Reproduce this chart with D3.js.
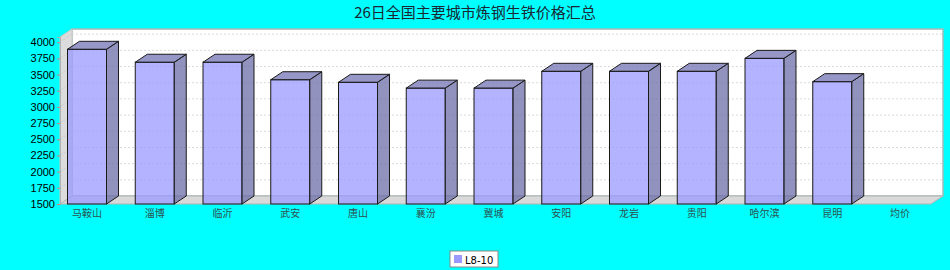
<!DOCTYPE html>
<html>
<head>
<meta charset="utf-8">
<script src="https://cdn.jsdelivr.net/npm/d3@7"></script>
<style>
  body { margin: 0; background: #00ffff; }
  svg { display: block; }
</style>
</head>
<body>
<svg width="950" height="270"></svg>
<script>
// data
var cities = ["马鞍山","淄博","临沂","武安","唐山","襄汾","冀城","安阳","龙岩","贵阳","哈尔滨","昆明","均价"];
var prices = [3890, 3690, 3690, 3420, 3380, 3290, 3290, 3550, 3550, 3550, 3750, 3390, null];
var yTicks = [1500,1750,2000,2250,2500,2750,3000,3250,3500,3750,4000];
var seriesName = "L8-10";
var title = "26日全国主要城市炼钢生铁价格汇总";

var svg = d3.select("svg");
var W = 950, H = 270;

// 3d depth offset
var dx = 12, dy = 8;
var plotL = 60, plotR = 931, plotT = 37, plotB = 204;

var y = d3.scaleLinear().domain([1500, 4080]).range([plotB, plotT]);
var x = d3.scalePoint().domain(cities).range([87, 900]);
var barW = 39;

// title
svg.append("text")
  .attr("x", W/2).attr("y", 18)
  .attr("text-anchor", "middle")
  .style("font-family", "'Noto Sans CJK SC', sans-serif")
  .style("font-size", "15px")
  .style("fill", "#1a2633")
  .text(title);

var g = svg.append("g");

// back wall
g.append("rect")
  .attr("x", plotL+dx).attr("y", plotT-dy)
  .attr("width", plotR-plotL).attr("height", plotB-plotT)
  .attr("fill", "#ffffff").attr("stroke", "#9fbcbc").attr("stroke-width", 1.5);

// left wall
g.append("polygon")
  .attr("points", [[plotL, plotT],[plotL+dx, plotT-dy],[plotL+dx, plotB-dy],[plotL, plotB]].join(" "))
  .attr("fill", "#dcdcdc").attr("stroke", "#c8c8c8");

// floor
g.append("polygon")
  .attr("points", [[plotL, plotB],[plotL+dx, plotB-dy],[plotR+dx, plotB-dy],[plotR, plotB]].join(" "))
  .attr("fill", "#d9d9d9").attr("stroke", "#b4b4b4");

// gridlines
yTicks.forEach(function(t){
  if (t == 1500) return;
  var yy = y(t);
  g.append("line")
    .attr("x1", plotL+dx).attr("x2", plotR+dx)
    .attr("y1", yy-dy).attr("y2", yy-dy)
    .attr("stroke", "#dadada").attr("stroke-dasharray", "2,2");
  g.append("line")
    .attr("x1", plotL).attr("x2", plotL+dx)
    .attr("y1", yy).attr("y2", yy-dy)
    .attr("stroke", "#c8c8c8").attr("stroke-dasharray", "2,2");
});

// y axis
var yAxis = d3.axisLeft(y).tickValues(yTicks).tickSize(3).tickPadding(2).tickFormat(d3.format("d"));
var ya = svg.append("g").attr("transform", "translate(" + plotL + ",0)").call(yAxis);
ya.select(".domain").attr("stroke", "#b0b0b0");
ya.selectAll(".tick line").attr("stroke", "#d08080");
ya.selectAll("text")
  .style("font-family", "'Liberation Sans', Arial, sans-serif")
  .style("font-size", "11px")
  .style("fill", "#000");

// bars
var data = cities.map(function(c, i){ return {city: c, v: prices[i]}; }).filter(function(d){ return d.v != null; });
var bars = svg.append("g").selectAll("g").data(data).enter().append("g");

bars.append("rect")
  .attr("x", function(d){ return x(d.city) - barW/2; })
  .attr("y", function(d){ return y(d.v); })
  .attr("width", barW)
  .attr("height", function(d){ return plotB - y(d.v); })
  .attr("fill", "rgba(153,153,255,0.75)")
  .attr("stroke", "#1a1a1a").attr("stroke-width", 1);

bars.append("polygon")
  .attr("points", function(d){
    var x1 = x(d.city) + barW/2, t = y(d.v);
    return [[x1, t],[x1+dx, t-dy],[x1+dx, plotB-dy],[x1, plotB]].join(" ");
  })
  .attr("fill", "rgba(110,110,170,0.75)")
  .attr("stroke", "#1a1a1a").attr("stroke-width", 1);

bars.append("polygon")
  .attr("points", function(d){
    var x0 = x(d.city) - barW/2, x1 = x0 + barW, t = y(d.v);
    return [[x0, t],[x0+dx, t-dy],[x1+dx, t-dy],[x1, t]].join(" ");
  })
  .attr("fill", "rgba(115,115,180,0.75)")
  .attr("stroke", "#1a1a1a").attr("stroke-width", 1);

// x labels
svg.append("g").selectAll("text").data(cities).enter().append("text")
  .attr("x", function(d){ return x(d); })
  .attr("y", 217)
  .attr("text-anchor", "middle")
  .style("font-family", "'Noto Sans CJK SC', sans-serif")
  .style("font-size", "10px")
  .style("fill", "#2e4f4f")
  .text(function(d){ return d; });

// legend
var lg = svg.append("g").attr("transform", "translate(450,251)");
lg.append("rect").attr("width", 48).attr("height", 16)
  .attr("fill", "#fff").attr("stroke", "#888");
lg.append("rect").attr("x", 4).attr("y", 4).attr("width", 8).attr("height", 8)
  .attr("fill", "#9999ff");
lg.append("text").attr("x", 15).attr("y", 12.5)
  .style("font-family", "'DejaVu Sans', sans-serif")
  .style("font-size", "10px")
  .style("fill", "#000")
  .text(seriesName);
</script>
</body>
</html>
